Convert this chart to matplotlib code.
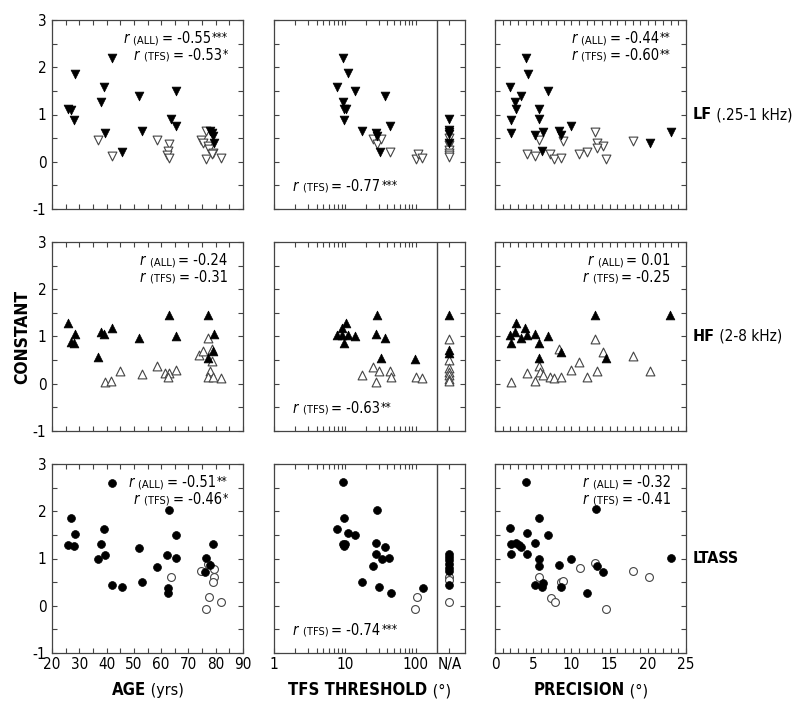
import matplotlib
matplotlib.use("Agg")
import matplotlib.pyplot as plt
from matplotlib.ticker import MultipleLocator, FixedLocator, FixedFormatter, NullFormatter
from matplotlib.offsetbox import TextArea, HPacker, VPacker, AnnotationBbox

#%% data  (x, y) pairs; filled = black, open = white
# LF (.25-1 kHz)
lf_age_filled = [(26, 1.12), (27, 1.10), (28.5, 1.86), (28, 0.88), (42, 2.19), (39, 1.58), (38, 1.27),
                 (39.5, 0.61), (45.5, 0.21), (52, 1.39), (53, 0.65), (65.5, 1.49), (63.5, 0.90),
                 (65.5, 0.76), (78, 0.66), (78.5, 0.60), (79, 0.55), (79.5, 0.39)]
lf_age_open = [(37, 0.47), (42, 0.12), (58.5, 0.47), (63, 0.38), (62.5, 0.22), (62, 0.14), (63, 0.08),
               (74.5, 0.46), (75.5, 0.39), (76.5, 0.66), (77, 0.33), (77.5, 0.28), (79, 0.19),
               (76.5, 0.05), (82, 0.07), (78.5, 0.17)]
lf_tfs_filled = [(9.4, 2.20), (11.2, 1.87), (7.7, 1.59), (13.9, 1.49), (9.4, 1.27), (9.8, 1.12),
                 (10.3, 1.12), (9.7, 0.88), (17.4, 0.65), (27.5, 0.60), (28.3, 0.55), (37, 1.39),
                 (43, 0.76), (31, 0.21)]
lf_tfs_open = [(25.4, 0.48), (29, 0.37), (32.6, 0.48), (44, 0.20), (100, 0.05), (107, 0.16), (125, 0.08)]
lf_na_filled = [0.90, 0.68, 0.63, 0.59, 0.40]
lf_na_open = [0.50, 0.35, 0.25, 0.19, 0.14, 0.09]
lf_prec_filled = [(4.0, 2.19), (4.3, 1.86), (2.0, 1.58), (3.4, 1.39), (2.6, 1.27), (6.9, 1.49), (2.8, 1.12),
                  (5.8, 1.12), (2.1, 0.88), (5.7, 0.90), (5.3, 0.57), (6.3, 0.64), (8.4, 0.66), (8.6, 0.57),
                  (10.0, 0.76), (6.1, 0.22), (20.3, 0.39), (23.0, 0.64), (2.1, 0.61)]
lf_prec_open = [(5.8, 0.47), (4.2, 0.16), (5.2, 0.12), (7.2, 0.17), (7.7, 0.06), (8.7, 0.08), (8.9, 0.44),
                (11.0, 0.17), (12.1, 0.21), (13.1, 0.64), (13.3, 0.39), (14.2, 0.34), (13.4, 0.29),
                (14.5, 0.05), (18.1, 0.44)]

# HF (2-8 kHz)
hf_age_filled = [(26, 1.29), (27, 0.88), (28, 0.86), (28.5, 1.05), (38, 1.10), (39, 1.06), (42, 1.19),
                 (37, 0.57), (52, 0.97), (63, 1.46), (65.5, 1.01), (77, 1.45), (79.5, 1.06), (79, 0.69),
                 (77, 0.54)]
hf_age_open = [(39.5, 0.03), (41.5, 0.05), (45, 0.27), (53, 0.20), (58.5, 0.38), (61.5, 0.22), (63, 0.22),
               (65.5, 0.29), (62.5, 0.14), (77, 0.97), (74, 0.60), (75.5, 0.70), (78.5, 0.74), (78.5, 0.48),
               (78, 0.28), (77, 0.15), (79, 0.15), (82, 0.12)]
hf_tfs_filled = [(10.4, 1.28), (9.2, 1.18), (7.7, 1.04), (9.2, 1.04), (11.1, 1.04), (13.9, 1.01), (9.6, 0.86),
                 (28.4, 1.46), (27.4, 1.05), (37, 0.96), (32.6, 0.55), (99, 0.53)]
hf_tfs_open = [(25.4, 0.36), (17.4, 0.19), (30.8, 0.27), (27.4, 0.03), (43, 0.28), (44.5, 0.15),
               (103, 0.15), (125, 0.12)]
hf_na_filled = [1.45, 0.72, 0.65]
hf_na_open = [0.95, 0.50, 0.34, 0.25, 0.18, 0.11, 0.05]
hf_prec_filled = [(2.8, 1.29), (2.6, 1.10), (3.9, 1.18), (2.0, 1.04), (3.4, 0.97), (4.2, 1.04), (5.3, 1.05),
                  (6.9, 1.01), (2.1, 0.86), (5.8, 0.87), (5.8, 0.55), (8.6, 0.67), (13.1, 1.45), (14.5, 0.54),
                  (22.9, 1.45)]
hf_prec_open = [(2.1, 0.03), (4.2, 0.22), (5.2, 0.06), (5.8, 0.37), (5.9, 0.25), (6.3, 0.19), (7.2, 0.15),
                (7.7, 0.13), (8.7, 0.15), (8.4, 0.73), (10.0, 0.29), (11.0, 0.47), (12.1, 0.15), (13.1, 0.95),
                (14.1, 0.68), (13.3, 0.28), (18.1, 0.59), (20.3, 0.28)]

# LTASS
lt_age_filled = [(42, 2.60), (27, 1.85), (28.5, 1.52), (26, 1.29), (28, 1.26), (39, 1.62), (38, 1.30),
                 (39.5, 1.08), (37, 0.98), (42, 0.43), (45.5, 0.40), (52, 1.23), (53, 0.50), (63, 2.02),
                 (65.5, 1.49), (65.5, 1.01), (58.5, 0.82), (62, 1.08), (62.5, 0.38), (62.5, 0.28),
                 (79, 1.31), (76.5, 1.01), (78, 0.86), (76, 0.72)]
lt_age_open = [(63.5, 0.60), (74.5, 0.73), (77, 0.89), (79.5, 0.77), (79.5, 0.60), (79, 0.51), (77.5, 0.18),
               (76.5, -0.06), (82, 0.08)]
lt_tfs_filled = [(9.3, 2.61), (9.7, 1.86), (7.7, 1.63), (11.2, 1.54), (13.9, 1.49), (9.3, 1.30), (10.0, 1.30),
                 (9.7, 1.27), (28.4, 2.03), (27.4, 1.32), (37, 1.25), (27.4, 1.09), (33.2, 0.99), (42.8, 1.01),
                 (25.4, 0.84), (17.4, 0.50), (30.5, 0.40), (44.5, 0.28), (126, 0.38)]
lt_tfs_open = [(104, 0.18), (99, -0.06)]
lt_na_filled = [1.09, 1.03, 0.96, 0.88, 0.80, 0.73, 0.43]
lt_na_open = [0.60, 0.55, 0.08]
lt_prec_filled = [(4.0, 2.61), (13.2, 2.04), (5.8, 1.86), (2.0, 1.64), (4.2, 1.54), (6.9, 1.50), (2.1, 1.30),
                  (2.7, 1.32), (3.1, 1.28), (3.4, 1.25), (5.3, 1.32), (2.1, 1.09), (4.2, 1.09), (5.8, 0.99),
                  (5.8, 0.84), (10.0, 1.00), (8.4, 0.86), (13.4, 0.84), (14.1, 0.72), (5.2, 0.43), (6.1, 0.40),
                  (6.3, 0.48), (8.6, 0.39), (12.1, 0.28), (23.0, 1.01)]
lt_prec_open = [(5.7, 0.60), (11.1, 0.79), (13.1, 0.91), (8.6, 0.50), (8.9, 0.53), (7.3, 0.17), (7.8, 0.08),
                (18.1, 0.73), (20.2, 0.61), (14.5, -0.06)]

# correlations printed in each panel
r_age = [[("ALL", "-0.55", "***"), ("TFS", "-0.53", "*")],
         [("ALL", "-0.24", ""), ("TFS", "-0.31", "")],
         [("ALL", "-0.51", "**"), ("TFS", "-0.46", "*")]]
r_tfs = [("-0.77", "***"), ("-0.63", "**"), ("-0.74", "***")]
r_prec = [[("ALL", "-0.44", "**"), ("TFS", "-0.60", "**")],
          [("ALL", "0.01", ""), ("TFS", "-0.25", "")],
          [("ALL", "-0.32", ""), ("TFS", "-0.41", "")]]

row_names = [("LF", " (.25-1 kHz)"), ("HF", " (2-8 kHz)"), ("LTASS", "")]
col_labels = [("AGE", " (yrs)"), ("TFS THRESHOLD", " (\u00b0)"), ("PRECISION", " (\u00b0)")]
tfs_ticks = [1, 10, 100]
NA_POS = 300     # where the "N/A" column sits on the log axis
NA_LINE = 200

#%% style
plt.rcParams["font.family"] = ["DejaVu Sans"]
plt.rcParams["font.stretch"] = "condensed"
plt.rcParams["axes.unicode_minus"] = False
GREY = "#444444"
FS = 10.5


def mixed(parts, align="baseline"):
    boxes = [TextArea(s, textprops=p) for s, p in parts]
    return HPacker(children=boxes, align=align, pad=0, sep=0)


def r_line(group, val, stars):
    body = mixed([("r ", dict(fontsize=FS, style="italic")),
                  ("(%s) " % group, dict(fontsize=8)),
                  ("= " + val, dict(fontsize=FS))])
    if not stars:
        return body
    # stars sit top-aligned, like a superscript
    return HPacker(children=[body, TextArea(stars, textprops=dict(fontsize=8.5))],
                   align="top", pad=0, sep=0.5)


def scatter(ax, pts, marker, filled, size):
    xs = [p[0] for p in pts]
    ys = [p[1] for p in pts]
    if filled:
        ax.scatter(xs, ys, s=size, marker=marker, c="k", edgecolors="k", linewidths=0.5, zorder=3)
    else:
        ax.scatter(xs, ys, s=size, marker=marker, c="white", edgecolors=GREY, linewidths=0.8, zorder=2)


#%% figure
W, H = 800, 707
fig = plt.figure(figsize=(W / 100, H / 100), dpi=100)
col_x = [52, 274, 495]
row_top = [20, 242, 464]
aw, ah = 191, 189

panels = [
    [(lf_age_filled, lf_age_open), (lf_tfs_filled, lf_tfs_open, lf_na_filled, lf_na_open), (lf_prec_filled, lf_prec_open)],
    [(hf_age_filled, hf_age_open), (hf_tfs_filled, hf_tfs_open, hf_na_filled, hf_na_open), (hf_prec_filled, hf_prec_open)],
    [(lt_age_filled, lt_age_open), (lt_tfs_filled, lt_tfs_open, lt_na_filled, lt_na_open), (lt_prec_filled, lt_prec_open)],
]
markers = ["v", "^", "o"]
sizes = [40, 40, 32]

for r in range(3):
    for c in range(3):
        ax = fig.add_axes([col_x[c] / W, 1 - (row_top[r] + ah) / H, aw / W, ah / H])
        data = panels[r][c]
        m, s = markers[r], sizes[r]
        scatter(ax, data[1], m, False, s)
        scatter(ax, data[0], m, True, s)
        if c == 1:
            scatter(ax, [(NA_POS, y) for y in data[3]], m, False, s)
            scatter(ax, [(NA_POS, y) for y in data[2]], m, True, s)

        ax.set_ylim(-1, 3)
        ax.yaxis.set_major_locator(MultipleLocator(1))
        ax.yaxis.set_minor_locator(MultipleLocator(0.5))
        if c == 0:
            ax.set_xlim(20, 90)
            ax.xaxis.set_major_locator(MultipleLocator(10))
            ax.xaxis.set_minor_locator(MultipleLocator(5))
        elif c == 1:
            ax.set_xscale("log")
            ax.set_xlim(1, 500)
            ax.axvline(NA_LINE, color=GREY, lw=1)
            ax.xaxis.set_major_locator(FixedLocator(tfs_ticks + [NA_POS]))
            ax.xaxis.set_major_formatter(FixedFormatter([str(t) for t in tfs_ticks] + ["N/A"]))
            ax.xaxis.set_minor_locator(FixedLocator([k * d for d in (1, 10) for k in range(2, 10)]))
            ax.xaxis.set_minor_formatter(NullFormatter())
        else:
            ax.set_xlim(0, 25)
            ax.xaxis.set_major_locator(MultipleLocator(5))
            ax.xaxis.set_minor_locator(MultipleLocator(1))

        ax.tick_params(which="both", direction="in", top=True, right=True, length=3.5,
                       width=0.8, color=GREY, labelsize=11, pad=3,
                       labelleft=(c == 0), labelbottom=(r == 2))
        ax.tick_params(axis="y", pad=4)
        for sp in ax.spines.values():
            sp.set_color(GREY)
            sp.set_linewidth(0.9)

        # correlation text
        if c == 1:
            val, stars = r_tfs[r]
            ab = AnnotationBbox(r_line("TFS", val, stars), (0.1, 0.12), xycoords="axes fraction",
                                box_alignment=(0, 0.5), frameon=False, pad=0)
        else:
            lines = (r_age if c == 0 else r_prec)[r]
            box = VPacker(children=[r_line(*l) for l in lines], align="right", pad=0, sep=1)
            ab = AnnotationBbox(box, (0.92, 0.94), xycoords="axes fraction",
                                box_alignment=(1, 1), frameon=False, pad=0)
        ax.add_artist(ab)

    # row label at the right
    bold, rest = row_names[r]
    lab = mixed([(bold, dict(fontsize=11.5, fontweight="bold")), (rest, dict(fontsize=11))])
    fig.add_artist(AnnotationBbox(lab, (693 / W, 1 - (row_top[r] + ah / 2) / H), xycoords="figure fraction",
                                  box_alignment=(0, 0.5), frameon=False, pad=0))

# column labels along the bottom
for c in range(3):
    bold, rest = col_labels[c]
    lab = mixed([(bold, dict(fontsize=12, fontweight="bold")), (rest, dict(fontsize=11.5))])
    fig.add_artist(AnnotationBbox(lab, ((col_x[c] + aw / 2) / W, 1 - 690 / H), xycoords="figure fraction",
                                  box_alignment=(0.5, 0.5), frameon=False, pad=0))

fig.text(22 / W, 1 - (row_top[1] + ah / 2) / H, "CONSTANT", rotation=90, fontsize=12.5,
         fontweight="bold", ha="center", va="center")

fig.savefig("out.png", dpi=100)
